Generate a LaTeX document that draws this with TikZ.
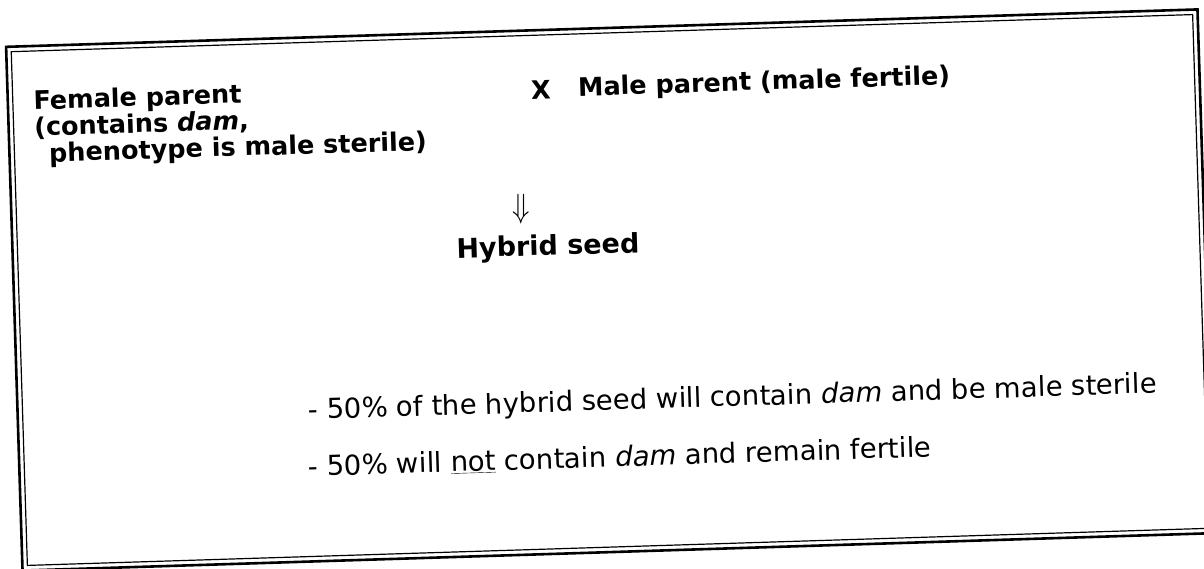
\documentclass[tikz,border=0pt]{standalone}
\usepackage{fontspec}
\setmainfont{DejaVu Sans}
\usepackage{tikz}
\usetikzlibrary{positioning}

\begin{document}
\begin{tikzpicture}[
    x=1pt, y=-1pt,
    label/.style={inner sep=0pt, rotate=1.8, font=\fontsize{25.5}{26.5}\selectfont\bfseries},
    note/.style={inner sep=0pt, rotate=1.8, anchor=west, font=\fontsize{27.5}{30}\selectfont},
    frame/.style={rotate around={1.8:(610,290)}}
]
    \useasboundingbox (0,0) rectangle (1204,569);
    \clip (0,0) rectangle (1204,569);

    % Frame
    \draw[frame, line width=2.6pt] (14,28) rectangle (1206,552);
    \draw[frame, line width=1.2pt] (19,33) rectangle (1201,547);

    % Parents
    \node[label, anchor=north west, align=left] (female) at (33,90)
        {Female parent\\(contains \textit{dam},\\\hspace*{0.55em}phenotype is male sterile)};
    \node[label] (cross) at (541,90) {X};
    \node[label, anchor=west] (male) at (578,89) {Male parent (male fertile)};

    % Result
    \node[inner sep=0pt, font=\fontsize{24}{24}\selectfont] (down) at (521,209)
        {\scalebox{1.15}[1.35]{$\Downarrow$}};
    \node[label, font=\fontsize{27}{27}\selectfont\bfseries] (hybrid) at (548,248) {Hybrid seed};

    % Notes
    \node[note] (half1) at (308,412)
        {- 50\% of the hybrid seed will contain \textit{dam} and be male sterile};
    \node[note] (half2) at (308,467)
        {- 50\% will \underline{not} contain \textit{dam} and remain fertile};
\end{tikzpicture}
\end{document}
